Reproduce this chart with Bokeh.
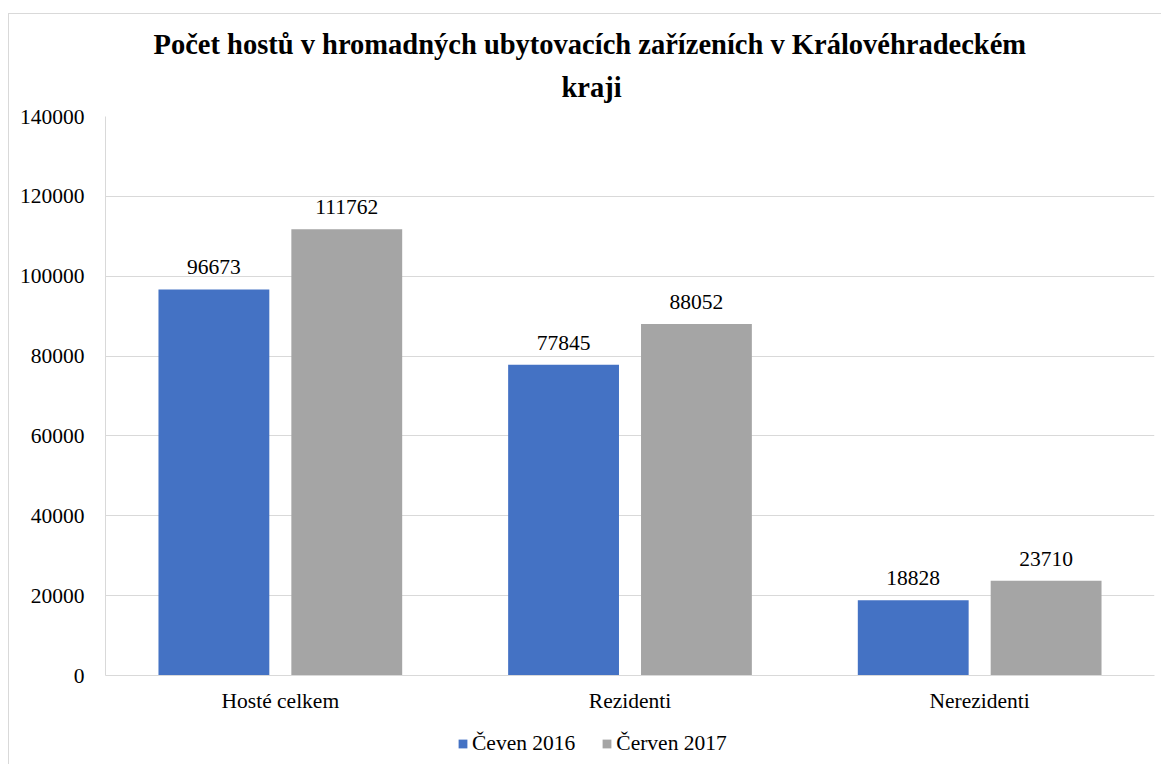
from bokeh.plotting import figure
from bokeh.layouts import column
from bokeh.models import (ColumnDataSource, FactorRange, LabelSet, Legend, LegendItem,
                          Range1d, Title, FixedTicker, NumeralTickFormatter)
from bokeh.transform import dodge
from bokeh.embed import file_html
from bokeh.resources import INLINE

categories = ["Hosté celkem", "Rezidenti", "Nerezidenti"]
series_names = ["Čeven 2016", "Červen 2017"]
values_2016 = [96673, 77845, 18828]
values_2017 = [111762, 88052, 23710]
y_ticks = [0, 20000, 40000, 60000, 80000, 100000, 120000, 140000]
title_line1 = "Počet hostů v hromadných ubytovacích zařízeních v Královéhradeckém"
title_line2 = "kraji"

colors = ["#4472C4", "#A5A5A5"]
FONT = "Liberation Serif"
FS = "21.5px"

source = ColumnDataSource(dict(cat=categories, v16=values_2016, v17=values_2017,
                               l16=[str(v) for v in values_2016],
                               l17=[str(v) for v in values_2017]))

p = figure(x_range=FactorRange(*categories), y_range=Range1d(0, 140000),
           width=1152, height=706, output_backend="svg", toolbar_location=None,
           min_border_left=96, min_border_right=7, min_border_top=102, min_border_bottom=45,
           outline_line_color=None)

t2 = Title(text=title_line2, align="left", offset=456, text_font=FONT, text_font_size="28.5px",
           text_font_style="bold", text_color="#000000", standoff=28)
t1 = Title(text=title_line1, align="left", offset=48, text_font=FONT, text_font_size="28.5px",
           text_font_style="bold", text_color="#000000", standoff=-8)
p.add_layout(t2, "above")
p.add_layout(t1, "above")

w = 0.317
r1 = p.vbar(x=dodge("cat", -0.19, range=p.x_range), top="v16", width=w, source=source,
            color=colors[0], line_color=None)
r2 = p.vbar(x=dodge("cat", 0.19, range=p.x_range), top="v17", width=w, source=source,
            color=colors[1], line_color=None)

for col, lab, off in (("v16", "l16", -0.19), ("v17", "l17", 0.19)):
    ls = LabelSet(x=dodge("cat", off, range=p.x_range), y=col, text=lab, source=source,
                  text_align="center", text_baseline="alphabetic", y_offset=15,
                  text_font=FONT, text_font_size=FS, text_color="#000000")
    p.add_layout(ls)

p.yaxis.ticker = FixedTicker(ticks=y_ticks)
p.yaxis.formatter = NumeralTickFormatter(format="0")
p.yaxis.major_label_text_font = FONT
p.yaxis.major_label_text_font_size = FS
p.yaxis.major_label_text_color = "#000000"
p.yaxis.major_label_standoff = 15
p.yaxis.axis_line_color = "#d9d9d9"
p.yaxis.major_tick_line_color = None
p.yaxis.minor_tick_line_color = None

p.xaxis.major_label_text_font = FONT
p.xaxis.major_label_text_font_size = FS
p.xaxis.major_label_text_color = "#000000"
p.xaxis.major_label_standoff = 7
p.xaxis.axis_line_color = "#d9d9d9"
p.xaxis.major_tick_line_color = None
p.xaxis.minor_tick_line_color = None

p.xgrid.grid_line_color = None
p.ygrid.grid_line_color = "#d9d9d9"
p.ygrid.ticker = FixedTicker(ticks=y_ticks)

# legend strip below the chart (frame aligned with the chart's frame)
lf = figure(width=1152, height=44, output_backend="svg", toolbar_location=None,
            x_range=Range1d(0, 1), y_range=Range1d(0, 1),
            min_border_left=0, min_border_right=0, min_border_top=0, min_border_bottom=0,
            outline_line_color=None)
lf.axis.visible = False
lf.grid.visible = False
lr1 = lf.vbar(x=[-10], top=[-10], width=1, color=colors[0], line_color=None)
lr2 = lf.vbar(x=[-10], top=[-10], width=1, color=colors[1], line_color=None)
legend = Legend(items=[LegendItem(label=series_names[0], renderers=[lr1]),
                       LegendItem(label=series_names[1], renderers=[lr2])],
                orientation="horizontal", location=(352, 8),
                label_text_font=FONT, label_text_font_size=FS, label_text_color="#000000",
                glyph_width=11, glyph_height=11, label_standoff=4, spacing=26,
                padding=0, margin=0, border_line_color=None, background_fill_alpha=0)
lf.add_layout(legend, "center")

layout = column(p, lf, spacing=0, margin=(13, 0, 0, 8),
                styles={"border-left": "1px solid #d9d9d9", "border-top": "1px solid #d9d9d9"})

open("out.html", "w").write(file_html(layout, INLINE))
